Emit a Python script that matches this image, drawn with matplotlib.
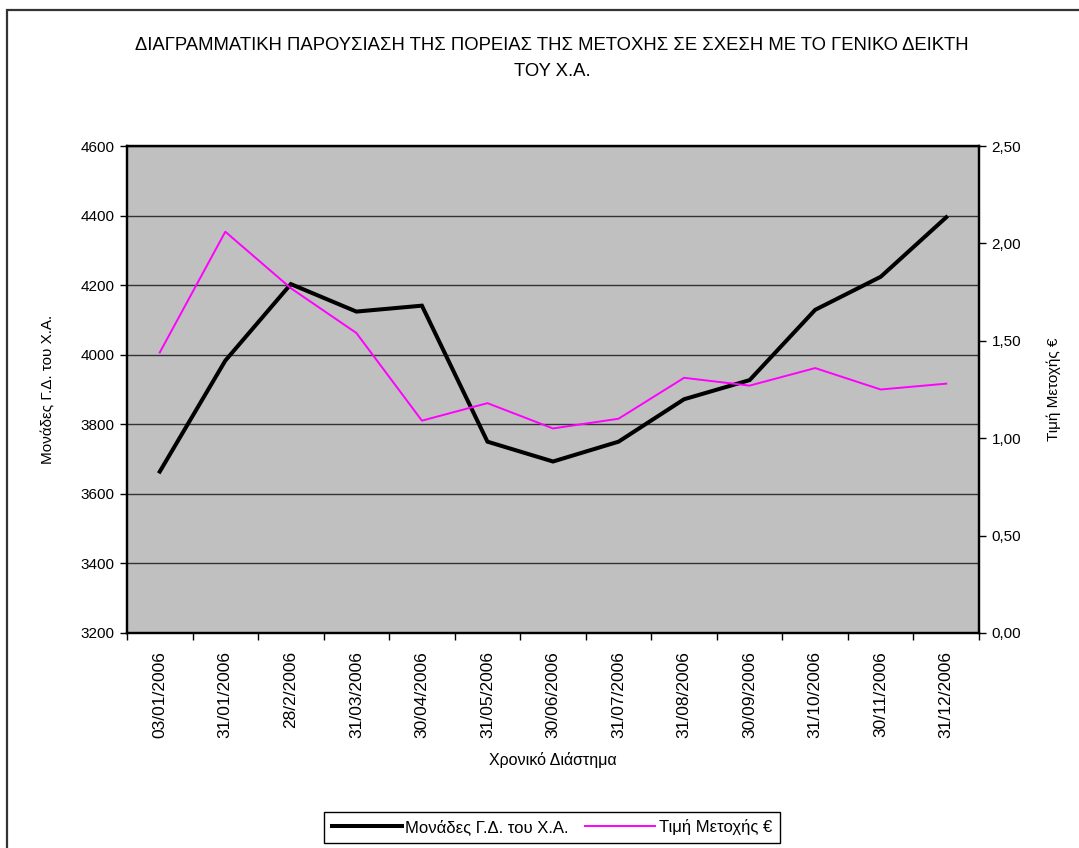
import matplotlib
matplotlib.use("Agg")
import matplotlib.pyplot as plt
from matplotlib.patches import Rectangle
from matplotlib.ticker import FixedLocator, FuncFormatter

plt.rcParams['font.family'] = ['Liberation Sans', 'DejaVu Sans']

dates = ['03/01/2006', '31/01/2006', '28/2/2006', '31/03/2006', '30/04/2006',
         '31/05/2006', '30/06/2006', '31/07/2006', '31/08/2006', '30/09/2006',
         '31/10/2006', '30/11/2006', '31/12/2006']
index_units = [3664, 3983, 4203, 4124, 4141, 3750, 3693, 3750, 3872, 3927,
               4129, 4224, 4395]
share_price = [1.44, 2.06, 1.77, 1.54, 1.09, 1.18, 1.05, 1.10, 1.31, 1.27,
               1.36, 1.25, 1.28]

fig = plt.figure(figsize=(10.79, 8.48), dpi=100)

# outer chart frame (only top and left edges visible)
fig.patches.append(Rectangle((7 / 1079, -0.2), 1.2, 1.2 - 10 / 848,
                             transform=fig.transFigure, fill=False,
                             edgecolor='#333333', lw=1.6))

ax = fig.add_axes([127 / 1079, 1 - 633 / 848, 852 / 1079, 487 / 848])
ax.set_facecolor('#C0C0C0')
ax2 = ax.twinx()

x = [i + 0.5 for i in range(len(dates))]
l1, = ax.plot(x, index_units, color='black', lw=2.9, solid_joinstyle='miter',
              label='Μονάδες Γ.Δ. του Χ.Α.')
l2, = ax2.plot(x, share_price, color='#FF00FF', lw=1.4,
               label='Τιμή Μετοχής €')

ax.set_xlim(0, len(dates))
ax.set_ylim(3200, 4600)
ax.set_yticks(range(3200, 4601, 200))
ax2.set_ylim(0, 2.5)
ax2.set_yticks([0, 0.5, 1.0, 1.5, 2.0, 2.5])
ax2.yaxis.set_major_formatter(FuncFormatter(lambda v, p: f'{v:.2f}'.replace('.', ',')))

ax.set_xticks(range(len(dates) + 1))
ax.set_xticklabels([])
ax.xaxis.set_minor_locator(FixedLocator(x))
ax.set_xticklabels(dates, minor=True, rotation=90)
ax.tick_params(axis='x', which='minor', length=0, pad=13, labelsize=12.5)
ax.tick_params(axis='x', which='major', length=5, width=1, direction='out')
ax.tick_params(axis='y', length=5, width=1, labelsize=11, pad=4)
ax2.tick_params(axis='y', length=5, width=1, labelsize=11, pad=4)

ax.grid(axis='y', color='#333333', lw=1)
ax.set_axisbelow(True)
for sp in ax.spines.values():
    sp.set_linewidth(1.6)
for sp in ax2.spines.values():
    sp.set_linewidth(1.6)

ax.set_ylabel('Μονάδες Γ.Δ. του Χ.Α.', fontsize=11, labelpad=18)
ax2.set_ylabel('Τιμή Μετοχής €', fontsize=11, labelpad=18)
ax.set_xlabel('Χρονικό Διάστημα', fontsize=11.5, labelpad=10)

title_font = ['Liberation Sans Narrow', 'Liberation Sans', 'DejaVu Sans']
fig.text(552 / 1079, 1 - 45 / 848,
         'ΔΙΑΓΡΑΜΜΑΤΙΚΗ ΠΑΡΟΥΣΙΑΣΗ ΤΗΣ ΠΟΡΕΙΑΣ ΤΗΣ ΜΕΤΟΧΗΣ ΣΕ ΣΧΕΣΗ ΜΕ ΤΟ ΓΕΝΙΚΟ ΔΕΙΚΤΗ',
         ha='center', va='center', fontsize=13.3, family=title_font)
fig.text(552 / 1079, 1 - 71 / 848, 'ΤΟΥ Χ.Α.',
         ha='center', va='center', fontsize=13.3, family=title_font)

leg = fig.legend([l1, l2], [l1.get_label(), l2.get_label()], loc='center',
                 bbox_to_anchor=(552 / 1079, 1 - 827 / 848), ncol=2,
                 fontsize=12, frameon=True, fancybox=False, framealpha=1,
                 edgecolor='black', handlelength=4.2, columnspacing=1.0,
                 handletextpad=0.2, borderpad=0.45)
leg.get_frame().set_linewidth(1)

fig.savefig('out.png', dpi=100)
